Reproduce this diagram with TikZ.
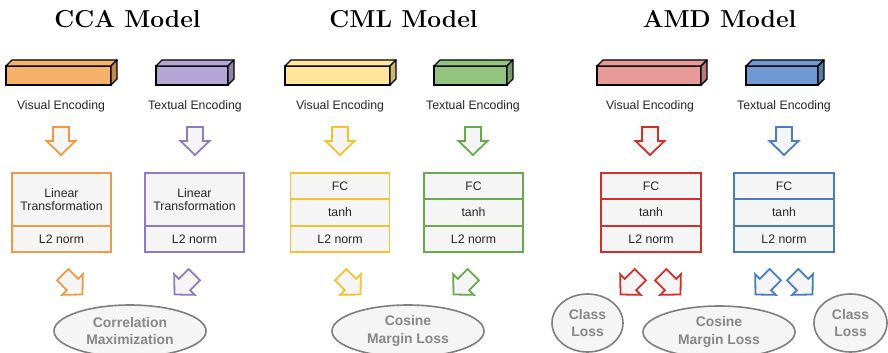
\documentclass[tikz,border=0pt]{standalone}
\usepackage{fontspec}
\newfontfamily\hv{Liberation Sans}
\definecolor{boxbg}{HTML}{F5F5F5}
\definecolor{orangeF}{HTML}{F6B26B}
\definecolor{orangeS}{HTML}{EE9A45}
\definecolor{orangeD}{HTML}{C4894F}
\definecolor{purpleF}{HTML}{B4A7D6}
\definecolor{purpleS}{HTML}{8E7CC3}
\definecolor{purpleD}{HTML}{8F84AA}
\definecolor{yellowF}{HTML}{FFE599}
\definecolor{yellowS}{HTML}{F1C232}
\definecolor{yellowD}{HTML}{CCB77A}
\definecolor{greenF}{HTML}{93C47D}
\definecolor{greenS}{HTML}{6AA84F}
\definecolor{greenD}{HTML}{759C63}
\definecolor{redF}{HTML}{EA9999}
\definecolor{redS}{HTML}{D0302A}
\definecolor{redD}{HTML}{BB7A7A}
\definecolor{blueF}{HTML}{6F9AD3}
\definecolor{blueS}{HTML}{4A7CC4}
\definecolor{blueD}{HTML}{587BAA}
\definecolor{ellS}{HTML}{7F7F7F}
\definecolor{ellT}{HTML}{878787}
\definecolor{txt}{HTML}{262626}
\tikzset{
  title/.style={font=\fontsize{24.5}{28}\selectfont\bfseries, anchor=base, inner sep=0},
  front/.style={draw=black, line width=1.4pt, outer sep=0, inner sep=0, minimum height=19},
  cubeedge/.style={draw=black, line width=1.4pt, line join=round},
  enc/.style={font=\hv\fontsize{12.3}{14}\selectfont, text=txt, inner sep=0},
  cell/.style={draw, fill=boxbg, line width=1.8pt, outer sep=0, inner sep=0,
    minimum width=99, align=center, text=txt, font=\hv\fontsize{12.3}{13.5}\selectfont},
  loss/.style={ellipse, draw=ellS, fill=boxbg, line width=1.6pt, inner sep=0,
    align=center, text=ellT, font=\hv\bfseries\fontsize{13.9}{17.5}\selectfont},
  barrow/.pic={\path[pic actions] (-8,-14) -- (8,-14) -- (8,0) -- (14.5,0) -- (0,14)
     -- (-14.5,0) -- (-8,0) -- cycle;},
  arr/.style={draw=#1, fill=boxbg, line width=1.8pt}
}
\usetikzlibrary{shapes.geometric}
\newcommand\mycube[6]{%
  \node[front, fill=#5, minimum width=#4] (#1) at (#2,#3) {};
  \draw[cubeedge, fill=#5] (#1.north west) -- ++(6,-6) -- ([shift={(6,-6)}]#1.north east) -- (#1.north east) -- cycle;
  \draw[cubeedge, fill=#6] (#1.north east) -- ++(6,-6) -- ([shift={(6,-6)}]#1.south east) -- (#1.south east) -- cycle;
}
\begin{document}
\begin{tikzpicture}[x=1pt, y=-1pt]
\useasboundingbox (0,0) rectangle (888,353);
\clip (0,0) rectangle (888,353);
\fill[white] (0,0) rectangle (888,353);
% titles
\node[title] (t1) at (127.5,28) {CCA Model};
\node[title] (t2) at (403.5,28) {CML Model};
\node[title] (t3) at (719.5,28) {AMD Model};
% cuboids
\mycube{c1}{58.5}{75.5}{105}{orangeF}{orangeD}
\mycube{c2}{192}{75.5}{72}{purpleF}{purpleD}
\mycube{c3}{337.5}{75.5}{105}{yellowF}{yellowD}
\mycube{c4}{470.5}{75.5}{73}{greenF}{greenD}
\mycube{c5}{649}{75.5}{104}{redF}{redD}
\mycube{c6}{782}{75.5}{72}{blueF}{blueD}
% labels
\node[enc] (l1) at (61,106) {Visual Encoding};
\node[enc] (l2) at (195,106) {Textual Encoding};
\node[enc] (l3) at (340,106) {Visual Encoding};
\node[enc] (l4) at (473,106) {Textual Encoding};
\node[enc] (l5) at (650,106) {Visual Encoding};
\node[enc] (l6) at (784,106) {Textual Encoding};
% down arrows
\pic[arr=orangeS] at (61,141) {barrow};
\pic[arr=purpleS] at (195,141) {barrow};
\pic[arr=yellowS] at (340,141) {barrow};
\pic[arr=greenS] at (473,141) {barrow};
\pic[arr=redS] at (650,141) {barrow};
\pic[arr=blueS] at (784,141) {barrow};
% CCA boxes
\node[cell, draw=orangeS, minimum height=53] (a1) at (61.5,199.5) {Linear\\Transformation};
\node[cell, draw=orangeS, minimum height=26] (a2) at (61.5,239) {L2 norm};
\node[cell, draw=purpleS, minimum height=53] (b1) at (194.5,199.5) {Linear\\Transformation};
\node[cell, draw=purpleS, minimum height=26] (b2) at (194.5,239) {L2 norm};
% CML boxes
\node[cell, draw=yellowS, minimum height=26] (c1a) at (340,186) {FC};
\node[cell, draw=yellowS, minimum height=27] (c1b) at (340,212.5) {tanh};
\node[cell, draw=yellowS, minimum height=26] (c1c) at (340,239) {L2 norm};
\node[cell, draw=greenS, minimum height=26] (d1a) at (473.5,186) {FC};
\node[cell, draw=greenS, minimum height=27] (d1b) at (473.5,212.5) {tanh};
\node[cell, draw=greenS, minimum height=26] (d1c) at (473.5,239) {L2 norm};
% AMD boxes
\node[cell, draw=redS, minimum height=26, minimum width=100] (e1a) at (651,186) {FC};
\node[cell, draw=redS, minimum height=27, minimum width=100] (e1b) at (651,212.5) {tanh};
\node[cell, draw=redS, minimum height=26, minimum width=100] (e1c) at (651,239) {L2 norm};
\node[cell, draw=blueS, minimum height=26, minimum width=100] (f1a) at (784,186) {FC};
\node[cell, draw=blueS, minimum height=27, minimum width=100] (f1b) at (784,212.5) {tanh};
\node[cell, draw=blueS, minimum height=26, minimum width=100] (f1c) at (784,239) {L2 norm};
% diagonal arrows
\pic[arr=orangeS, rotate=45] at (72.6,284.6) {barrow};
\pic[arr=purpleS, rotate=-45] at (184.4,284.6) {barrow};
\pic[arr=yellowS, rotate=45] at (350.6,284.6) {barrow};
\pic[arr=greenS, rotate=-45] at (463.4,284.6) {barrow};
\pic[arr=redS, rotate=-45] at (630.4,284.6) {barrow};
\pic[arr=redS, rotate=45] at (670.6,284.6) {barrow};
\pic[arr=blueS, rotate=-45] at (765.4,284.6) {barrow};
\pic[arr=blueS, rotate=45] at (802.6,284.6) {barrow};
% losses
\node[loss, minimum width=152, minimum height=52] (g1) at (130,331) {Correlation\\Maximization};
\node[loss, minimum width=152, minimum height=52] (g2) at (408,331) {Cosine\\Margin Loss};
\node[loss, minimum width=152, minimum height=52] (g3) at (719,332) {Cosine\\Margin Loss};
\node[loss, minimum width=71, minimum height=58] (g4) at (587.5,323) {Class\\Loss};
\node[loss, minimum width=73, minimum height=58] (g5) at (850.5,323) {Class\\Loss};
\end{tikzpicture}
\end{document}
